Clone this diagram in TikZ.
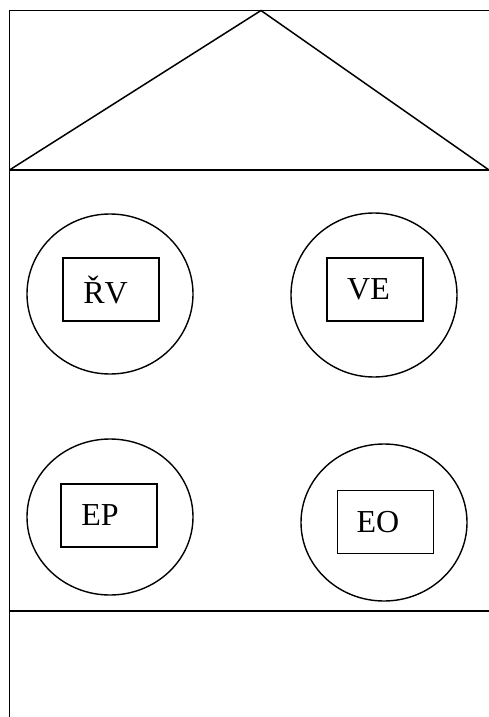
\documentclass[tikz,border=0pt]{standalone}
\usepackage{fontspec}
\setmainfont{Liberation Serif}
\usepackage{tikz}
\usetikzlibrary{shapes.geometric}

\tikzset{
  ring/.style={draw, ellipse, line width=1.4pt, minimum width=166pt, minimum height=160pt},
  cell/.style={draw, rectangle, line width=1.5pt, minimum width=96pt, minimum height=63pt},
  tag/.style={inner sep=0pt, font=\fontsize{32}{36}\selectfont}
}

\begin{document}
\begin{tikzpicture}[x=1pt, y=-1pt]
    \useasboundingbox (0,0) rectangle (489,717);

    % corners of the house
    \coordinate (tl) at (9.5,10.5);
    \coordinate (tr) at (489,10.5);
    \coordinate (bl) at (9.5,717);
    \coordinate (el) at (9.5,170);
    \coordinate (er) at (489,170);
    \coordinate (top) at (261,10.5);
    \coordinate (fl) at (9.5,611);
    \coordinate (fr) at (489,611);

    % draw the outline and the floors
    \draw [line width=1.7pt] (tr) -- (tl) -- (bl);
    \draw [line width=1.7pt] (el) -- (er);
    \draw [line width=1.7pt] (fl) -- (fr);

    % draw the roof
    \draw [line width=1.5pt] (el) -- (top) -- (er);

    % draw the four rooms
    \node [ring] (rrv) at (110,294) {};
    \node [ring, minimum height=164pt] (rve) at (374,295) {};
    \node [ring, minimum height=156pt] (rep) at (110,517) {};
    \node [ring, minimum height=157pt] (reo) at (384,522.5) {};

    % draw the boxes inside the rooms
    \node [cell] (crv) at (111,289.5) {};
    \node [cell] (cve) at (375,289.5) {};
    \node [cell] (cep) at (109,515.5) {};
    \node [cell] (ceo) at (385.5,522) {};

    % draw the labels of the boxes
    \node [tag] (trv) at ([xshift=-5.5pt]crv.center) {ŘV};
    \node [tag] (tve) at ([xshift=-6.5pt]cve.center) {VE};
    \node [tag] (tep) at ([xshift=-9pt]cep.center) {EP};
    \node [tag] (teo) at ([xshift=-7.5pt]ceo.center) {EO};

\end{tikzpicture}
\end{document}
